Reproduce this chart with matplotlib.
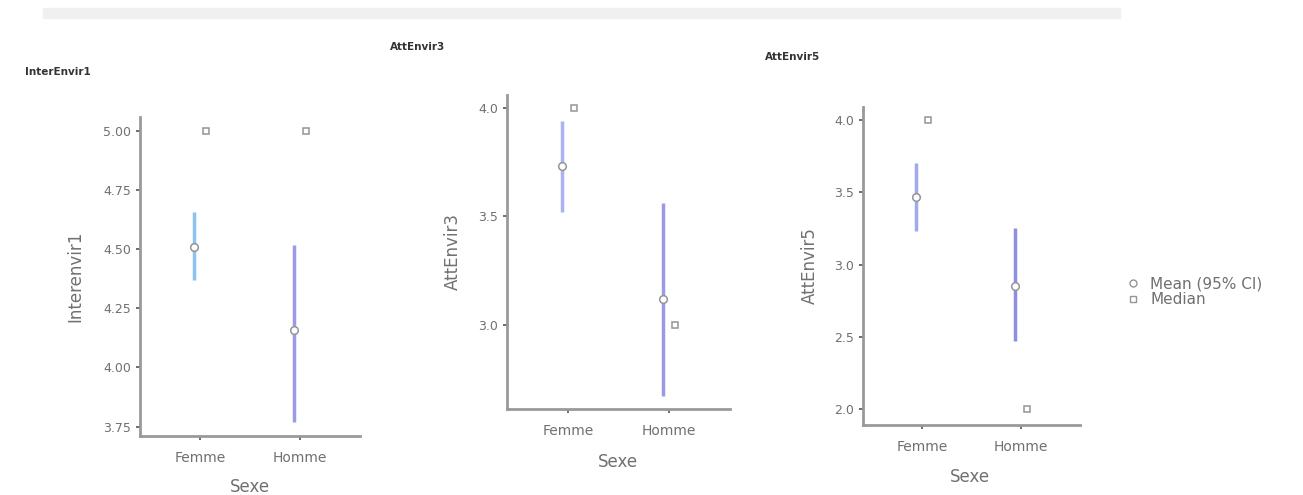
import matplotlib
matplotlib.use("Agg")
import matplotlib.pyplot as plt
from matplotlib.patches import Rectangle
from matplotlib.lines import Line2D

categories = ["Femme", "Homme"]
titles = ["InterEnvir1", "AttEnvir3", "AttEnvir5"]
ylabels = ["Interenvir1", "AttEnvir3", "AttEnvir5"]
xlabel = "Sexe"

means = [[4.51, 4.16], [3.73, 3.12], [3.47, 2.85]]
ci_low = [[4.37, 3.77], [3.52, 2.67], [3.23, 2.47]]
ci_high = [[4.66, 4.52], [3.94, 3.56], [3.70, 3.25]]
medians = [[5.0, 5.0], [4.0, 3.0], [4.0, 2.0]]

yticks = [[3.75, 4.00, 4.25, 4.50, 4.75, 5.00],
          [3.0, 3.5, 4.0],
          [2.0, 2.5, 3.0, 3.5, 4.0]]
ytick_fmt = ["{:.2f}", "{:.1f}", "{:.1f}"]
ylims = [(3.71, 5.06), (2.61, 4.06), (1.89, 4.09)]

W, H = 1303, 495
fig = plt.figure(figsize=(W / 100, H / 100), dpi=100)

def fx(px):
    return px / W

def fy(py):
    return 1 - py / H

# top gray band
fig.patches.append(Rectangle((fx(43), fy(18)), fx(1120) - fx(43), fy(8) - fy(18),
                             transform=fig.transFigure, color="#f0f0f0", zorder=0))

# axes boxes in pixels: left, right, top, bottom
boxes = [(140, 360, 117, 436), (507, 730, 95, 409), (863, 1080, 107, 425)]
title_pos = [(25, 72), (390, 47), (765, 57)]
ylabel_pos = [(75, 276), (453, 252), (810, 266)]
xlabel_pos = [(250, 487), (618, 462), (970, 477)]

ci_colors = [["#8ec3f0", "#9a9ae8"], ["#aab2f0", "#9a9ae8"], ["#a0a8ee", "#8f8fe2"]]
gray = "#959595"
txt = "#707070"

for i in range(3):
    l, r, t, b = boxes[i]
    ax = fig.add_axes([fx(l), fy(b), fx(r) - fx(l), fy(t) - fy(b)])
    xs = list(range(len(categories)))
    for j, x in enumerate(xs):
        ax.plot([x - 0.06, x - 0.06], [ci_low[i][j], ci_high[i][j]],
                color=ci_colors[i][j], lw=2.5, solid_capstyle="butt", zorder=2)
        ax.plot([x - 0.06], [means[i][j]], marker="o", ms=5.5, mfc="white",
                mec=gray, mew=1.1, zorder=3)
        ax.plot([x + 0.06], [medians[i][j]], marker="s", ms=5, mfc="white",
                mec=gray, mew=1.1, zorder=3)
    ax.set_xlim(-0.6, 1.6)
    ax.set_ylim(*ylims[i])
    ax.set_xticks(xs)
    ax.set_xticklabels(categories)
    ax.set_yticks(yticks[i])
    ax.set_yticklabels([ytick_fmt[i].format(v) for v in yticks[i]])
    for s in ["top", "right"]:
        ax.spines[s].set_visible(False)
    for s in ["left", "bottom"]:
        ax.spines[s].set_color("#999999")
        ax.spines[s].set_linewidth(2)
    ax.tick_params(axis="both", colors="#555555", labelcolor=txt, length=3,
                   width=1.2, labelsize=9)
    ax.tick_params(axis="x", labelsize=10, pad=8)
    ax.set_facecolor("none")
    fig.text(fx(title_pos[i][0]), fy(title_pos[i][1]), titles[i], fontsize=7.5,
             fontweight="bold", color="#333333", ha="left", va="center")
    fig.text(fx(ylabel_pos[i][0]), fy(ylabel_pos[i][1]), ylabels[i], fontsize=12,
             color=txt, rotation=90, ha="center", va="center")
    fig.text(fx(xlabel_pos[i][0]), fy(xlabel_pos[i][1]), xlabel, fontsize=12,
             color=txt, ha="center", va="center")

# legend
handles = [Line2D([], [], ls="none", marker="o", ms=5, mfc="white", mec=gray, mew=1.0),
           Line2D([], [], ls="none", marker="s", ms=4.5, mfc="white", mec=gray, mew=1.0)]
fig.legend(handles, ["Mean (95% CI)", "Median"], loc="center left",
           bbox_to_anchor=(fx(1112), fy(292)), frameon=False, fontsize=11,
           labelcolor=txt, handlelength=1, handletextpad=0.6, labelspacing=0.05)

fig.savefig("out.png", dpi=100, facecolor="white")
